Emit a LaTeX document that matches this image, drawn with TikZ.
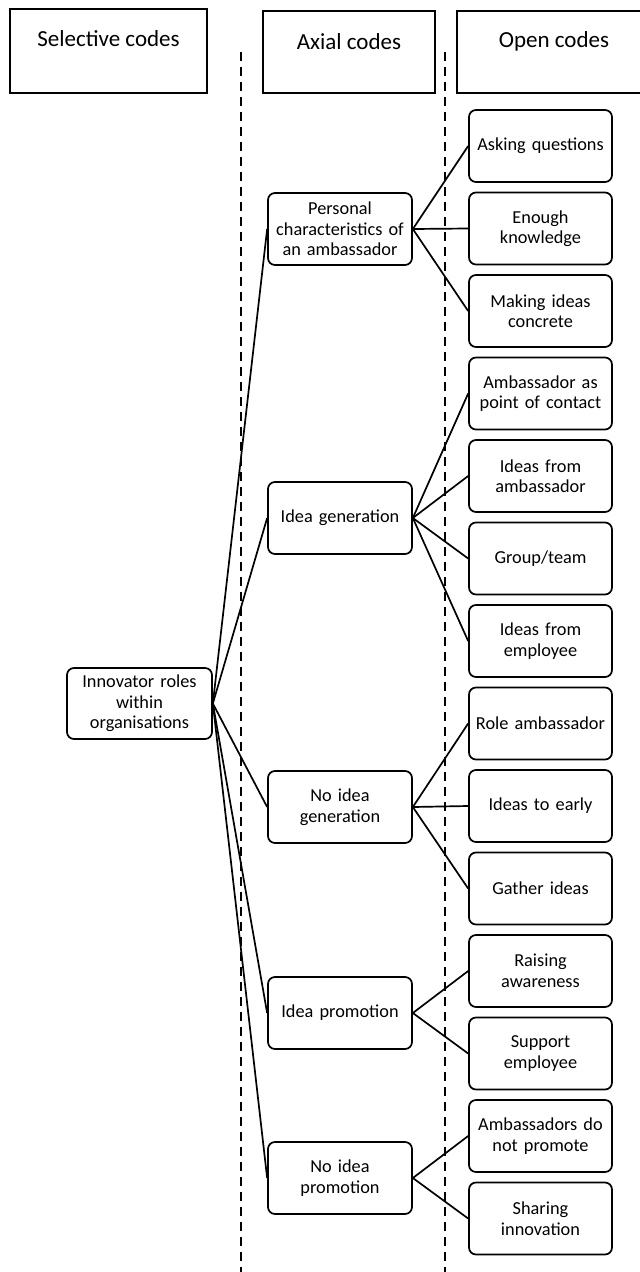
\documentclass[tikz,border=0pt]{standalone}
\usepackage{fontspec}
\setmainfont{Carlito}
\begin{document}
\begin{tikzpicture}[x=1pt,y=-1pt,
  box/.style={draw, rounded corners=7pt, line width=1.7pt, minimum width=144pt, minimum height=72pt, inner sep=0pt, align=center, text width=142pt, font=\fontsize{18.3}{20.5}\selectfont},
  head/.style={draw, line width=1.6pt, inner sep=0pt},
  headtxt/.style={font=\fontsize{23}{27}\selectfont, inner sep=0pt},
  conn/.style={line width=1.7pt},
  sepline/.style={dash pattern=on 9pt off 6pt, line width=1.4pt}]
\useasboundingbox (0,0) rectangle (640,1272);

% header boxes
\node[head, minimum width=197pt, minimum height=84pt] (hsel) at (108.5,51) {};
\node[head, minimum width=172pt, minimum height=82pt] (hax) at (349,52) {};
\node[head, minimum width=194pt, minimum height=82pt] (hop) at (554,52) {};
\node[headtxt] (tsel) at (108.5,39) {Selective codes};
\node[headtxt] (tax) at (349,42) {Axial codes};
\node[headtxt] (top) at (554,41) {Open codes};

% dashed separators
\coordinate (d1t) at (241,52);
\coordinate (d1b) at (241,1272);
\coordinate (d2t) at (445,52);
\coordinate (d2b) at (445,1272);
\draw[sepline] (d1t) -- (d1b);
\draw[sepline] (d2t) -- (d2b);

% selective
\node[box, minimum width=145pt, minimum height=71pt] (inn) at (139.5,703.5) {Innovator roles\\within\\organisations};

% axial
\node[box] (a1) at (340,229) {Personal\\characteristics of\\an ambassador};
\node[box] (a2) at (340,518) {Idea generation};
\node[box] (a3) at (340,807) {No idea\\generation};
\node[box] (a4) at (340,1013) {Idea promotion};
\node[box] (a5) at (340,1178) {No idea\\promotion};

% open
\node[box, minimum width=143pt] (o1) at (540.5,146) {Asking questions};
\node[box, minimum width=143pt] (o2) at (540.5,228.5) {Enough\\knowledge};
\node[box, minimum width=143pt] (o3) at (540.5,311) {Making ideas\\concrete};
\node[box, minimum width=143pt] (o4) at (540.5,393.5) {Ambassador as\\point of contact};
\node[box, minimum width=143pt] (o5) at (540.5,476) {Ideas from\\ambassador};
\node[box, minimum width=143pt] (o6) at (540.5,558.5) {Group/team};
\node[box, minimum width=143pt] (o7) at (540.5,641) {Ideas from\\employee};
\node[box, minimum width=143pt] (o8) at (540.5,723.5) {Role ambassador};
\node[box, minimum width=143pt] (o9) at (540.5,806) {Ideas to early};
\node[box, minimum width=143pt] (o10) at (540.5,888.5) {Gather ideas};
\node[box, minimum width=143pt] (o11) at (540.5,971) {Raising\\awareness};
\node[box, minimum width=143pt] (o12) at (540.5,1053.5) {Support\\employee};
\node[box, minimum width=143pt] (o13) at (540.5,1136) {Ambassadors do\\not promote};
\node[box, minimum width=143pt] (o14) at (540.5,1218.5) {Sharing\\innovation};

% connectors
\foreach \a in {a1,a2,a3,a4,a5} \draw[conn] (inn.east) -- (\a.west);
\foreach \o in {o1,o2,o3} \draw[conn] (a1.east) -- (\o.west);
\foreach \o in {o4,o5,o6,o7} \draw[conn] (a2.east) -- (\o.west);
\foreach \o in {o8,o9,o10} \draw[conn] (a3.east) -- (\o.west);
\foreach \o in {o11,o12} \draw[conn] (a4.east) -- (\o.west);
\foreach \o in {o13,o14} \draw[conn] (a5.east) -- (\o.west);
\end{tikzpicture}
\end{document}
